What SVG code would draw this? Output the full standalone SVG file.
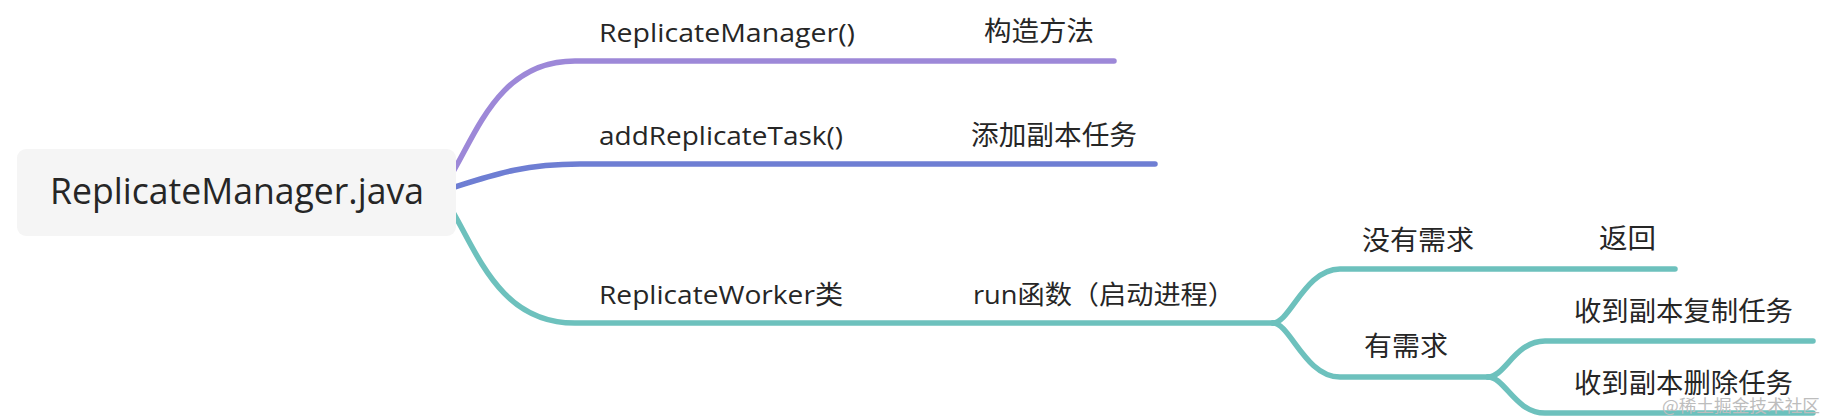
<svg xmlns="http://www.w3.org/2000/svg" width="1828" height="418" viewBox="0 0 1828 418">
<style>
.t{font-family:"Open Sans","Noto Sans CJK SC",sans-serif;font-size:26px;fill:#262626}
.c{font-family:"Noto Sans CJK SC",sans-serif;font-size:27px;fill:#262626}
.l{fill:none;stroke-width:5.5;stroke-linecap:round;stroke-linejoin:round}
.p{stroke:#9d88d8}
.b{stroke:#6e7ed3}
.g{stroke:#6dc1bd}
</style>
<rect width="1828" height="418" fill="#ffffff"/>
<g id="connectors">
<path class="l p" d="M445 185 C475 140 495 61 575 61 L1114 61"/>
<path class="l b" d="M445 190 C490 176 520 164 580 164 L1155 164"/>
<path class="l g" d="M445 199 C475 244 495 323 575 323 L1273 323"/>
<path class="l g" d="M1273 323 C1290 323 1305 269 1340 269 L1675 269"/>
<path class="l g" d="M1273 323 C1290 323 1305 377 1340 377 L1488 377"/>
<path class="l g" d="M1488 377 C1505 377 1515 341 1545 341 L1813 341"/>
<path class="l g" d="M1488 377 C1505 377 1515 413 1545 413 L1813 413"/>
</g>
<g id="root">
<rect x="17" y="149" width="439" height="87" rx="9" fill="#f5f5f5"/>
<text class="t" x="50" y="204" textLength="374" lengthAdjust="spacingAndGlyphs" style="font-size:36px">ReplicateManager.java</text>
</g>
<g id="n1"><text class="t" x="599" y="42" textLength="256" lengthAdjust="spacingAndGlyphs">ReplicateManager()</text></g>
<g id="n1a"><text class="c" x="984" y="41" textLength="110" lengthAdjust="spacingAndGlyphs">构造方法</text></g>
<g id="n2"><text class="t" x="599" y="145" textLength="244" lengthAdjust="spacingAndGlyphs">addReplicateTask()</text></g>
<g id="n2a"><text class="c" x="971" y="145" textLength="166" lengthAdjust="spacingAndGlyphs">添加副本任务</text></g>
<g id="n3"><text class="t" x="599" y="304" textLength="244" lengthAdjust="spacingAndGlyphs">ReplicateWorker类</text></g>
<g id="n3a"><text class="t" x="973" y="304" textLength="262" lengthAdjust="spacingAndGlyphs">run函数（启动进程）</text></g>
<g id="n4"><text class="c" x="1362" y="250" textLength="112" lengthAdjust="spacingAndGlyphs">没有需求</text></g>
<g id="n4a"><text class="c" x="1599" y="248" textLength="57" lengthAdjust="spacingAndGlyphs">返回</text></g>
<g id="n5"><text class="c" x="1364" y="356" textLength="84" lengthAdjust="spacingAndGlyphs">有需求</text></g>
<g id="n6"><text class="c" x="1574" y="321" textLength="219" lengthAdjust="spacingAndGlyphs">收到副本复制任务</text></g>
<g id="n7"><text class="c" x="1574" y="393" textLength="219" lengthAdjust="spacingAndGlyphs">收到副本删除任务</text></g>
<text x="1662" y="412" font-family="'Noto Sans CJK SC',serif" font-size="16.5" fill="#bdbdbd" textLength="158" lengthAdjust="spacingAndGlyphs">@稀土掘金技术社区</text>
</svg>
